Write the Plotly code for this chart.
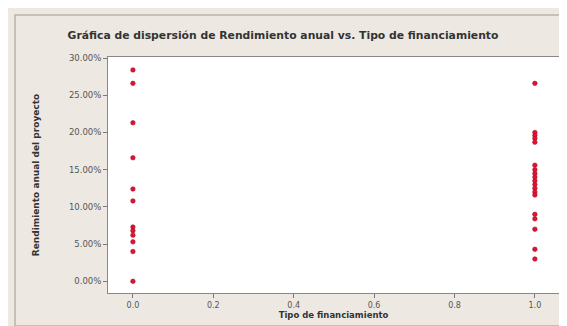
import plotly.graph_objects as go

# Data
tipo_0 = [0, 0, 0, 0, 0, 0, 0, 0, 0, 0, 0, 0]
rend_0 = [0.284, 0.266, 0.213, 0.166, 0.124, 0.108, 0.073, 0.068, 0.062, 0.053, 0.040, 0.000]
tipo_1 = [1] * 19
rend_1 = [0.266, 0.200, 0.196, 0.192, 0.187, 0.156, 0.150, 0.145, 0.140, 0.135,
          0.130, 0.125, 0.120, 0.116, 0.090, 0.084, 0.070, 0.043, 0.030]

x_vals = tipo_0 + tipo_1
y_vals = rend_0 + rend_1

x_ticks = [0.0, 0.2, 0.4, 0.6, 0.8, 1.0]
x_tick_text = ["0.0", "0.2", "0.4", "0.6", "0.8", "1.0"]
y_ticks = [0.0, 0.05, 0.10, 0.15, 0.20, 0.25, 0.30]
y_tick_text = ["0.00%", "5.00%", "10.00%", "15.00%", "20.00%", "25.00%", "30.00%"]

title = "Gráfica de dispersión de Rendimiento anual vs. Tipo de financiamiento"
x_title = "Tipo de financiamiento"
y_title = "Rendimiento anual del proyecto"

fig = go.Figure()
fig.add_trace(go.Scatter(
    x=x_vals, y=y_vals, mode="markers",
    marker=dict(symbol="circle", size=4.5, color="#e8102c",
                line=dict(width=0.6, color="#a01030")),
    showlegend=False, hoverinfo="skip"))

fig.update_layout(
    width=567, height=326,
    margin=dict(l=100, r=16, t=49, b=41),
    paper_bgcolor="#ede9e2",
    plot_bgcolor="#ffffff",
    title=dict(text="<b>" + title + "</b>", x=275 / 567, xanchor="center",
               y=1 - 27 / 326, yanchor="middle",
               font=dict(family="DejaVu Sans", size=10.8, color="#333333")),
    font=dict(family="DejaVu Sans", size=8, color="#555555"),
)
fig.update_xaxes(
    range=[-0.062, 1.06], tickvals=x_ticks, ticktext=x_tick_text,
    showgrid=False, zeroline=False, ticks="outside", ticklen=4,
    tickcolor="#777777", showline=True, linecolor="#888888", linewidth=1,
    mirror=True, tickfont=dict(size=8, color="#555555"),
    title=dict(text="<b>" + x_title + "</b>", standoff=2,
               font=dict(size=8.5, color="#333333")))
fig.update_yaxes(
    range=[-0.0157, 0.3014], tickvals=y_ticks, ticktext=y_tick_text,
    showgrid=False, zeroline=False, ticks="outside", ticklen=4,
    tickcolor="#777777", showline=True, linecolor="#888888", linewidth=1,
    mirror=True, tickfont=dict(size=8.5, color="#555555"),
    title=dict(text="<b>" + y_title + "</b>", standoff=27,
               font=dict(size=9, color="#333333")))

# outer frame of the panel
fig.add_shape(type="rect", xref="paper", yref="paper",
              x0=(7 - 100) / 451, x1=(560 - 100) / 451,
              y0=(285 - 318) / 236, y1=(285 - 7) / 236,
              line=dict(color="#b8b4ac", width=1.5), fillcolor="rgba(0,0,0,0)",
              layer="below")

fig.write_html("out.html")
